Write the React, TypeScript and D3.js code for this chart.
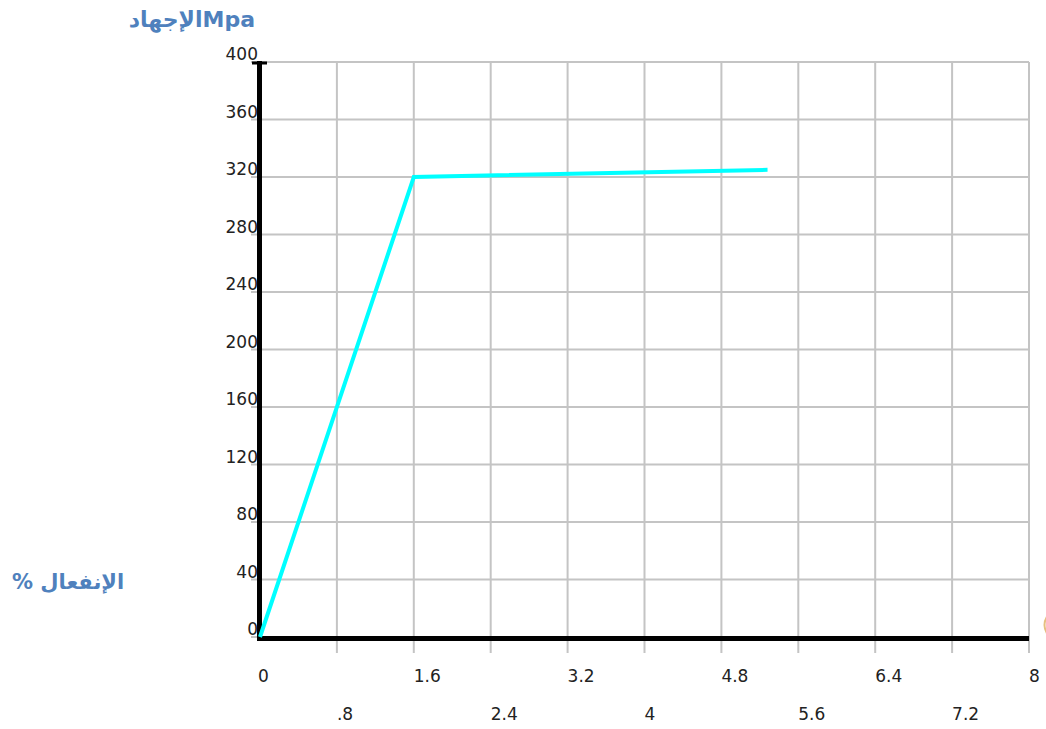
import React from "react";
import * as d3 from "d3";

const strain: number[] = [0, 1.6, 5.28];
const stress: number[] = [0, 320, 325];
const xTickValues: number[] = [0, 0.8, 1.6, 2.4, 3.2, 4, 4.8, 5.6, 6.4, 7.2, 8];
const xTickLabels: string[] = ["0", ".8", "1.6", "2.4", "3.2", "4", "4.8", "5.6", "6.4", "7.2", "8"];
const yTickValues: number[] = [0, 40, 80, 120, 160, 200, 240, 280, 320, 360, 400];
const yTickLabels: string[] = ["0", "40", "80", "120", "160", "200", "240", "280", "320", "360", "400"];
const yTitle = "الإجهادMpa";
const xTitle = "% الإنفعال";

export default function App() {
  const W = 1046;
  const H = 729;
  const x = d3.scaleLinear().domain([0, 8]).range([260, 1029]);
  const y = d3.scaleLinear().domain([0, 400]).range([637, 62]);
  const pts: [number, number][] = strain.map((s, i) => [s, stress[i]]);
  const line = d3
    .line<[number, number]>()
    .x((d) => x(d[0]))
    .y((d) => y(d[1]));
  const labelFont = "'DejaVu Sans', sans-serif";
  return (
    <svg
      width={W}
      height={H}
      style={{ position: "absolute", left: 0, top: 0, background: "#fff" }}
    >
      {/* vertical gridlines */}
      {xTickValues.map((v, i) =>
        i === 0 ? null : (
          <line
            key={"vx" + i}
            x1={x(v)}
            x2={x(v)}
            y1={y(400)}
            y2={653}
            stroke="#c4c4c4"
            strokeWidth={2}
          />
        )
      )}
      {/* horizontal gridlines */}
      {yTickValues.map((v, i) => (
        <line
          key={"hy" + i}
          x1={251}
          x2={x(8)}
          y1={y(v)}
          y2={y(v)}
          stroke="#c4c4c4"
          strokeWidth={2}
        />
      ))}
      {/* y axis */}
      <line x1={259.5} x2={259.5} y1={61} y2={640} stroke="#000" strokeWidth={5} />
      <line x1={252} x2={267} y1={63} y2={63} stroke="#000" strokeWidth={3} />
      {/* x axis */}
      <line x1={257} x2={x(8)} y1={638.5} y2={638.5} stroke="#000" strokeWidth={5} />
      {/* y tick labels */}
      {yTickValues.map((v, i) => (
        <text
          key={"yl" + i}
          x={258}
          y={y(v) - 2}
          textAnchor="end"
          fontFamily={labelFont}
          fontSize={17}
          fill="#222"
        >
          {yTickLabels[i]}
        </text>
      ))}
      {/* x tick labels */}
      {xTickValues.map((v, i) => (
        <text
          key={"xl" + i}
          x={x(v) - (i === 0 ? 2 : 0)}
          y={i % 2 === 0 ? 682 : 720}
          textAnchor="start"
          fontFamily={labelFont}
          fontSize={17}
          fill="#222"
        >
          {xTickLabels[i]}
        </text>
      ))}
      {/* data line */}
      <path
        d={line(pts) || ""}
        fill="none"
        stroke="#00ffff"
        strokeWidth={4}
        strokeLinejoin="miter"
      />
      {/* titles */}
      <text
        x={255}
        y={27}
        textAnchor="end"
        fontFamily="'DejaVu Sans', 'Noto Sans', sans-serif"
        fontWeight="bold"
        fontSize={22}
        fill="#4f81bd"
      >
        {yTitle}
      </text>
      <text
        x={12}
        y={589}
        textAnchor="start"
        fontFamily="'DejaVu Sans', 'Noto Sans', sans-serif"
        fontWeight="bold"
        fontSize={21}
        fill="#4f81bd"
      >
        {xTitle}
      </text>
      <path
        d="M1048,615 Q1041,625 1048,635"
        fill="none"
        stroke="#e6bf80"
        strokeWidth={2}
      />
    </svg>
  );
}
